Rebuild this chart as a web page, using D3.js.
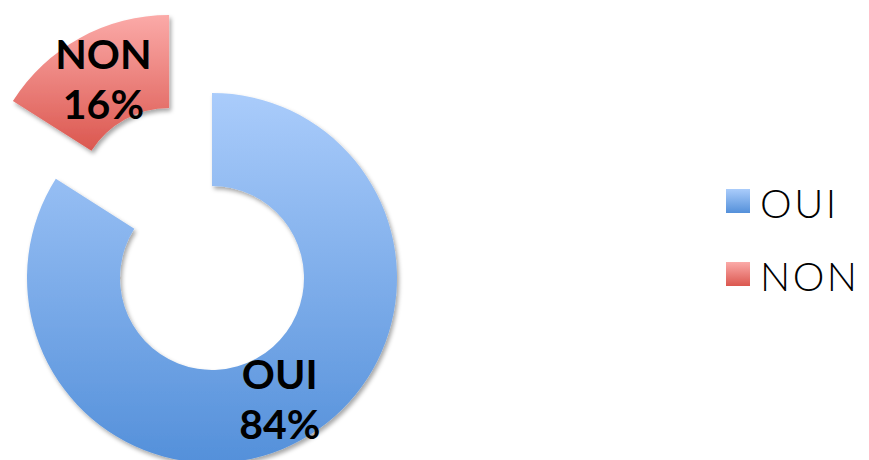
<!DOCTYPE html>
<html>
<head>
<meta charset="utf-8">
<script src="https://cdn.jsdelivr.net/npm/d3@7"></script>
<style>
  html, body { margin: 0; padding: 0; background: #fff; }
  svg { display: block; }
</style>
</head>
<body>
<svg id="chart" width="869" height="460"></svg>
<script>
const categories = ["OUI", "NON"];
const values = [84, 16];
const labels = ["84%", "16%"];
const gradTop = ["#AACCFB", "#FBAAA8"];
const gradBottom = ["#5490DA", "#DB574F"];

const W = 869, H = 460;
const cx = 212, cy = 278;
const outerR = 185, innerR = 92;
const explode = [0, 89];

const svg = d3.select("#chart");
const defs = svg.append("defs");

const f = defs.append("filter").attr("id", "shadow")
  .attr("x", "-20%").attr("y", "-20%").attr("width", "140%").attr("height", "140%");
f.append("feDropShadow").attr("dx", 2).attr("dy", 3).attr("stdDeviation", 2)
  .attr("flood-color", "#000").attr("flood-opacity", 0.35);

categories.forEach((c, i) => {
  const g = defs.append("linearGradient").attr("id", "grad" + i)
    .attr("x1", 0).attr("y1", 0).attr("x2", 0).attr("y2", 1);
  g.append("stop").attr("offset", "0%").attr("stop-color", gradTop[i]);
  g.append("stop").attr("offset", "100%").attr("stop-color", gradBottom[i]);
});

const pie = d3.pie().sort(null).value(d => d)(values);
const arc = d3.arc().innerRadius(innerR).outerRadius(outerR);

const root = svg.append("g").attr("transform", `translate(${cx},${cy})`);

const slices = root.selectAll("g.slice").data(pie).enter().append("g")
  .attr("class", "slice")
  .attr("transform", (d, i) => {
    const a = (d.startAngle + d.endAngle) / 2;
    return `translate(${Math.sin(a) * explode[i]},${-Math.cos(a) * explode[i]})`;
  });

slices.append("path")
  .attr("d", arc)
  .attr("fill", (d, i) => `url(#grad${i})`)
  .attr("filter", "url(#shadow)");

slices.each(function(d, i) {
  const [x, y] = arc.centroid(d);
  const t = d3.select(this).append("text")
    .attr("text-anchor", "middle")
    .attr("font-family", "Lato, 'Open Sans', sans-serif")
    .attr("font-weight", "bold")
    .attr("font-size", 41)
    .attr("fill", "#000");
  t.append("tspan").attr("x", x + 1).attr("y", y - 10).text(categories[i]);
  t.append("tspan").attr("x", x + 1).attr("y", y + 40).text(labels[i]);
});

// Legend
const legend = svg.append("g").attr("transform", "translate(726,189)");
const items = legend.selectAll("g").data(categories).enter().append("g")
  .attr("transform", (d, i) => `translate(0,${i * 73})`);
items.append("rect").attr("width", 24).attr("height", 24)
  .attr("fill", (d, i) => `url(#grad${i})`);
items.append("text")
  .attr("x", 34).attr("y", 29)
  .attr("font-family", "Lato, 'Open Sans', sans-serif")
  .attr("font-weight", 300)
  .attr("font-size", 40)
  .attr("letter-spacing", 2.5)
  .attr("fill", "#000")
  .text(d => d);
</script>
</body>
</html>
